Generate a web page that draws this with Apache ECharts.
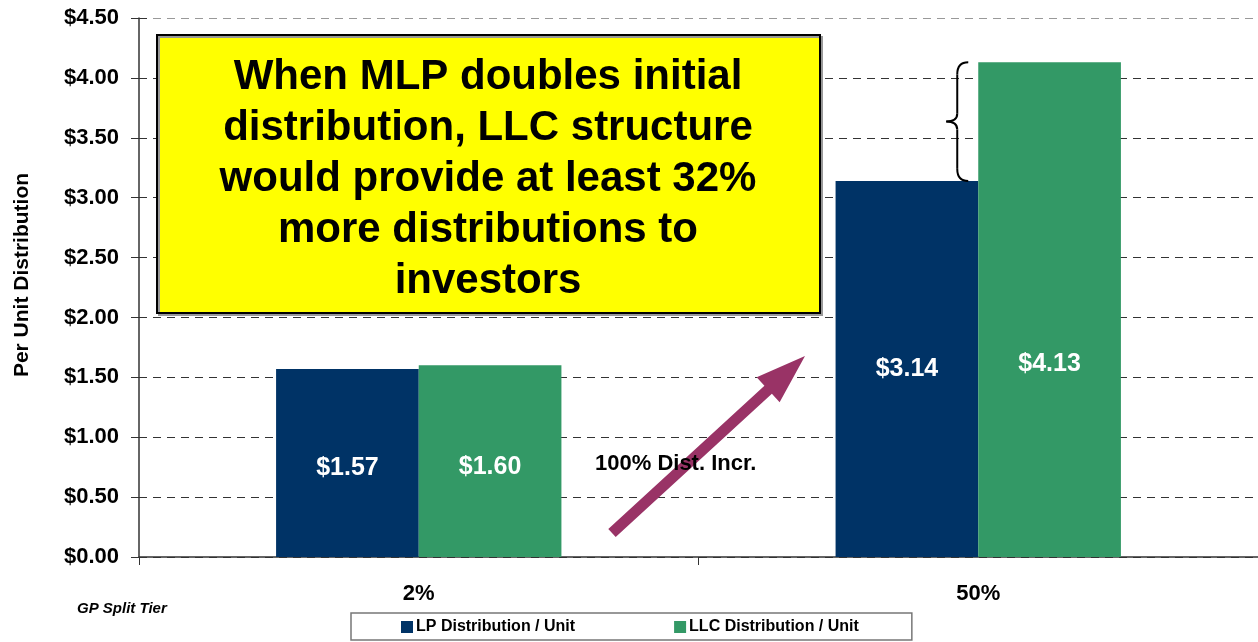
<!DOCTYPE html>
<html>
<head>
<meta charset="utf-8">
<script src="https://cdn.jsdelivr.net/npm/echarts@6/dist/echarts.min.js"></script>
<style>
  html, body { margin: 0; padding: 0; background: #fff; }
  #chart { width: 1258px; height: 642px; }
</style>
</head>
<body>
<div id="chart"></div>
<script>
// ---- data ----
const tiers = ['2%', '50%'];
const lpValues = [1.57, 3.14];
const llcValues = [1.60, 4.13];
const seriesNames = ['LP Distribution / Unit', 'LLC Distribution / Unit'];
const yMin = 0, yMax = 4.5, yStep = 0.5;

const FONT = 'Arial, "Liberation Sans", sans-serif';
const chart = echarts.init(document.getElementById('chart'));

// split line colours: last (top) line lighter like the plot border
const gridColors = [];
for (let v = yMin; v <= yMax + 1e-9; v += yStep) gridColors.push('#333');
gridColors[gridColors.length - 1] = '#999';

const labelStyle = {
    show: true, position: 'inside', color: '#fff',
    fontFamily: FONT, fontWeight: 'bold', fontSize: 25,
    formatter: p => '$' + p.value.toFixed(2)
};

// the tall LLC label sits lower in the bar, level with the LP label
const llcData = llcValues.map((v, i) => i === 1 ? { value: v, label: { offset: [0, 54] } } : { value: v, label: { offset: [0, 6] } });
const lpData = lpValues.map((v, i) => i === 0 ? { value: v, label: { offset: [0, 5] } } : v);

chart.setOption({
    animation: false,
    textStyle: { fontFamily: FONT },
    grid: { left: 139, right: 0, top: 18, bottom: 85 },
    legend: {
        data: seriesNames,
        left: 351, top: 613,
        itemWidth: 12, itemHeight: 12, itemGap: 99,
        icon: 'rect',
        padding: [6, 53, 5, 50],
        borderColor: '#777', borderWidth: 1.5,
        textStyle: { fontFamily: FONT, fontWeight: 'bold', fontSize: 16, color: '#000', padding: [0, 0, 0, -2] }
    },
    xAxis: {
        type: 'category',
        data: tiers,
        axisLine: { lineStyle: { color: '#333', width: 1.5 } },
        axisTick: { show: true, length: 8, lineStyle: { color: '#333' } },
        axisLabel: { margin: 26, color: '#000', fontFamily: FONT, fontWeight: 'bold', fontSize: 22 }
    },
    yAxis: [{
        type: 'value', min: yMin, max: yMax, interval: yStep,
        axisLine: { show: true, lineStyle: { color: '#333', width: 1.5 } },
        axisTick: { show: true, length: 8, lineStyle: { color: '#333' } },
        axisLabel: {
            margin: 20, color: '#000', fontFamily: FONT, fontWeight: 'bold', fontSize: 22,
            formatter: v => '$' + v.toFixed(2)
        },
        splitLine: { show: true, lineStyle: { color: gridColors, type: [8, 6], width: 1 } }
    }, {
        // overlay axis only to get the inside half of the crossing ticks
        type: 'value', min: yMin, max: yMax, interval: yStep, position: 'left',
        axisLine: { show: false },
        axisTick: { show: true, inside: true, length: 8, lineStyle: { color: '#333' } },
        axisLabel: { show: false },
        splitLine: { show: false }
    }],
    series: [{
        name: seriesNames[0], type: 'bar', data: lpData,
        barGap: 0, barCategoryGap: '49%',
        itemStyle: { color: '#003366' },
        label: labelStyle
    }, {
        name: seriesNames[1], type: 'bar', data: llcData,
        barGap: 0, barCategoryGap: '49%',
        itemStyle: { color: '#339966' },
        label: labelStyle
    }]
});

// ---- annotations ----
function arrowPoints(x0, y0, x1, y1, shaftHalf, headHalf, headLen) {
    const dx = x1 - x0, dy = y1 - y0, len = Math.hypot(dx, dy);
    const ux = dx / len, uy = dy / len, nx = -uy, ny = ux;
    const bx = x1 - ux * headLen, by = y1 - uy * headLen;
    return [
        [x0 + nx * shaftHalf, y0 + ny * shaftHalf],
        [bx + nx * shaftHalf, by + ny * shaftHalf],
        [bx + nx * headHalf, by + ny * headHalf],
        [x1, y1],
        [bx - nx * headHalf, by - ny * headHalf],
        [bx - nx * shaftHalf, by - ny * shaftHalf],
        [x0 - nx * shaftHalf, y0 - ny * shaftHalf]
    ];
}

// brace between the two 50% bars' tops
const braceTop = chart.convertToPixel({ xAxisIndex: 0, yAxisIndex: 0 }, [tiers[1], llcValues[1]]);
const braceBot = chart.convertToPixel({ xAxisIndex: 0, yAxisIndex: 0 }, [tiers[1], lpValues[1]]);
const bxEnd = braceTop[0] - 10, bxMid = braceTop[0] - 21, bxTip = braceTop[0] - 32;
const yT = braceTop[1], yB = braceBot[1], yM = (yT + yB) / 2;
const braceStyle = { stroke: '#000', lineWidth: 2, fill: null };
const braceParts = [
    { type: 'bezierCurve', shape: { x1: bxEnd, y1: yT, cpx1: bxMid, cpy1: yT, x2: bxMid, y2: yT + 12 } },
    { type: 'line', shape: { x1: bxMid, y1: yT + 12, x2: bxMid, y2: yM - 8 } },
    { type: 'bezierCurve', shape: { x1: bxMid, y1: yM - 8, cpx1: bxMid, cpy1: yM, x2: bxTip, y2: yM } },
    { type: 'bezierCurve', shape: { x1: bxTip, y1: yM, cpx1: bxMid, cpy1: yM, x2: bxMid, y2: yM + 8 } },
    { type: 'line', shape: { x1: bxMid, y1: yM + 8, x2: bxMid, y2: yB - 12 } },
    { type: 'bezierCurve', shape: { x1: bxMid, y1: yB - 12, cpx1: bxMid, cpy1: yB, x2: bxEnd, y2: yB } }
].map(p => Object.assign(p, { z: 10, style: braceStyle }));

chart.setOption({
    graphic: [
        {
            // y axis title
            type: 'text', x: 22, y: 275, rotation: Math.PI / 2, z: 11,
            style: { text: 'Per Unit Distribution', align: 'center', verticalAlign: 'middle', font: 'bold 21px ' + FONT, fill: '#000' }
        },
        {
            type: 'rect', z: 10,
            shape: { x: 157, y: 35, width: 663, height: 278 },
            style: { fill: '#ffff00', stroke: '#000', lineWidth: 2, shadowColor: '#999', shadowOffsetX: 2, shadowOffsetY: 2 }
        },
        {
            type: 'text', x: 488, y: 179, z: 11,
            style: {
                text: 'When MLP doubles initial\ndistribution, LLC structure\nwould provide at least 32%\nmore distributions to\ninvestors',
                align: 'center', verticalAlign: 'middle', lineHeight: 51,
                font: 'bold 42px ' + FONT, fill: '#000'
            }
        },
        {
            type: 'polygon', z: 10,
            shape: { points: arrowPoints(612, 533, 805, 356, 5.5, 17, 50) },
            style: { fill: '#993366' }
        },
        {
            type: 'text', x: 595, y: 464, z: 11,
            style: { text: '100% Dist. Incr.', verticalAlign: 'middle', font: 'bold 22px ' + FONT, fill: '#000' }
        },
        {
            type: 'text', x: 77, y: 609, z: 11,
            style: { text: 'GP Split Tier', verticalAlign: 'middle', font: 'italic bold 15px ' + FONT, fill: '#000' }
        }
    ].concat(braceParts)
});
</script>
</body>
</html>
